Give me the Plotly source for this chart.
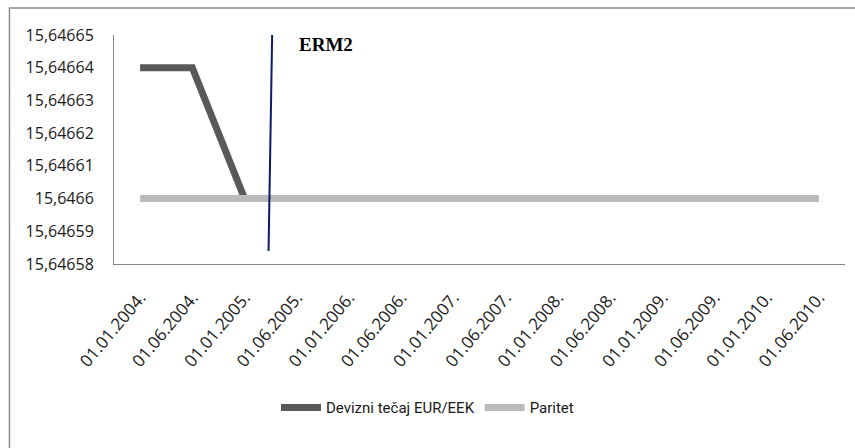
import plotly.graph_objects as go

# Exchange rate EUR/EEK vs. central parity, half-yearly observations
dates = ["01.01.2004.", "01.06.2004.", "01.01.2005.", "01.06.2005.",
         "01.01.2006.", "01.06.2006.", "01.01.2007.", "01.06.2007.",
         "01.01.2008.", "01.06.2008.", "01.01.2009.", "01.06.2009.",
         "01.01.2010.", "01.06.2010."]
exchange_rate = [15.64664, 15.64664, 15.6466] + [None] * 11
parity = [15.6466] * 14

# ERM2 entry marker (position along the category axis) and its label
erm2_x = [2.53, 2.46]
erm2_y = [15.646651, 15.646584]
erm2_label = "ERM2"
erm2_label_pos = (3.0, 15.646647)

y_ticks = [15.64658, 15.64659, 15.6466, 15.64661, 15.64662, 15.64663, 15.64664, 15.64665]
y_ticktext = [f"{v:.5f}".rstrip("0").replace(".", ",") for v in y_ticks]

x_pos = list(range(len(dates)))

fig = go.Figure()
fig.add_trace(go.Scatter(
    x=x_pos, y=exchange_rate, mode="lines", name="Devizni tečaj EUR/EEK",
    line=dict(color="#595959", width=7), connectgaps=False,
))
fig.add_trace(go.Scatter(
    x=x_pos, y=parity, mode="lines", name="Paritet",
    line=dict(color="#bababa", width=7),
))
fig.add_trace(go.Scatter(
    x=erm2_x, y=erm2_y, mode="lines", showlegend=False,
    line=dict(color="#0d1b6b", width=2), cliponaxis=False,
))

fig.add_annotation(
    x=erm2_label_pos[0], y=erm2_label_pos[1], text=f"<b>{erm2_label}</b>",
    showarrow=False, xanchor="left", yanchor="middle",
    font=dict(family="Liberation Serif", size=19, color="black"),
)

# chart-area frame
fig.add_shape(type="rect", xref="paper", yref="paper",
              x0=-0.143, x1=1.5, y0=-1.0, y1=1.118,
              line=dict(color="#8c8c8c", width=1.5), layer="below")

fig.update_layout(
    width=855, height=448,
    margin=dict(l=114, r=10, t=35, b=184),
    paper_bgcolor="white", plot_bgcolor="white",
    font=dict(family="Open Sans", color="#1a1a1a"),
    showlegend=True,
    legend=dict(orientation="h", x=0.5, xanchor="center", xref="container",
                y=0.09, yref="container", yanchor="middle",
                font=dict(size=15, family="Roboto"),
                itemwidth=40),
    xaxis=dict(
        range=[-0.5, 13.5], tickvals=x_pos, ticktext=dates,
        tickangle=-50, tickfont=dict(size=17),
        showgrid=False, zeroline=False,
        showline=True, linecolor="#868686", linewidth=1,
        ticks="", ticklabelstandoff=16,
    ),
    yaxis=dict(
        range=[15.64658, 15.64665], tickvals=y_ticks, ticktext=y_ticktext,
        tickfont=dict(size=16),
        showgrid=False, zeroline=False,
        showline=True, linecolor="#868686", linewidth=1,
        ticks="", ticklabelstandoff=16,
    ),
)

fig.write_html("out.html")
